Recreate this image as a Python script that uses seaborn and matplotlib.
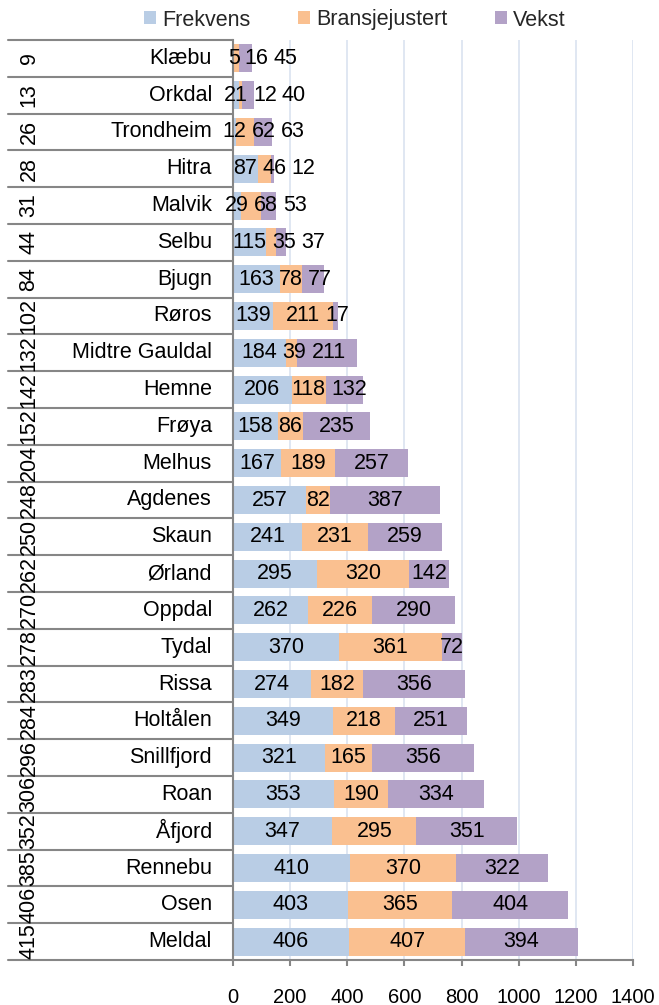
import matplotlib
matplotlib.use("Agg")
import matplotlib.pyplot as plt
import matplotlib.transforms as mtransforms
from matplotlib.patches import Patch
import numpy as np
import pandas as pd
import seaborn as sns

# data
kommuner = ["Klæbu", "Orkdal", "Trondheim", "Hitra", "Malvik", "Selbu", "Bjugn", "Røros",
            "Midtre Gauldal", "Hemne", "Frøya", "Melhus", "Agdenes", "Skaun", "Ørland",
            "Oppdal", "Tydal", "Rissa", "Holtålen", "Snillfjord", "Roan", "Åfjord",
            "Rennebu", "Osen", "Meldal"]
rangering = [9, 13, 26, 28, 31, 44, 84, 102, 132, 142, 152, 204, 248, 250, 262, 270,
             278, 283, 284, 296, 306, 352, 385, 406, 415]
frekvens = [5, 21, 12, 87, 29, 115, 163, 139, 184, 206, 158, 167, 257, 241, 295, 262,
            370, 274, 349, 321, 353, 347, 410, 403, 406]
bransje = [16, 12, 62, 46, 68, 35, 78, 211, 39, 118, 86, 189, 82, 231, 320, 226, 361,
           182, 218, 165, 190, 295, 370, 365, 407]
vekst = [45, 40, 63, 12, 53, 37, 77, 17, 211, 132, 235, 257, 387, 259, 142, 290, 72,
         356, 251, 356, 334, 351, 322, 404, 394]
serier = ["Frekvens", "Bransjejustert", "Vekst"]
farger = ["#b9cde5", "#fac090", "#b3a2c7"]

df = pd.DataFrame({"Kommune": kommuner, "Frekvens": frekvens,
                   "Bransjejustert": bransje, "Vekst": vekst})
df["s1"] = df["Frekvens"]
df["s2"] = df["s1"] + df["Bransjejustert"]
df["s3"] = df["s2"] + df["Vekst"]

sns.set_theme(style="white")
plt.rcParams["font.family"] = ["Liberation Sans", "DejaVu Sans"]
FS = 15.5
GRA = "#868686"

fig = plt.figure(figsize=(6.59, 10.05), dpi=100)
ax = fig.add_axes([233 / 659, 45 / 1005, 400 / 659, 920 / 1005])

# stacked bars: draw cumulative totals from the back
for kol, farge in zip(["s3", "s2", "s1"], farger[::-1]):
    sns.barplot(data=df, x=kol, y="Kommune", color=farge, width=0.76,
                saturation=1, linewidth=0, ax=ax, zorder=2)

ax.set_xlim(0, 1400)
ax.set_xticks(np.arange(0, 1401, 200))
ax.set_ylim(len(kommuner) - 0.5, -0.5)
ax.set_xlabel("")
ax.set_ylabel("")
ax.set_yticks([])
ax.grid(axis="x", color="#dae3f0", linewidth=1.2, zorder=0)
ax.set_axisbelow(True)
for s in ["top", "right"]:
    ax.spines[s].set_visible(False)
for s in ["left", "bottom"]:
    ax.spines[s].set_color(GRA)
    ax.spines[s].set_linewidth(1.5)
ax.tick_params(axis="x", bottom=True, length=4, width=1.5, color=GRA,
               pad=16, labelsize=14.5, labelcolor="#000000")

# data labels, pushed right when they would overlap
px_per_unit = 400 / 1400
digit = 0.556 * FS * 100 / 72 / px_per_unit
gap = 5 / px_per_unit
for i in range(len(kommuner)):
    verdier = [frekvens[i], bransje[i], vekst[i]]
    starts = np.cumsum([0] + verdier[:-1])
    forrige_hoyre = None
    for v, st in zip(verdier, starts):
        w = len(str(v)) * digit
        c = st + v / 2
        if forrige_hoyre is not None and c - w / 2 < forrige_hoyre + gap:
            c = forrige_hoyre + gap + w / 2
        ax.text(c, i, str(v), ha="center", va="center", fontsize=FS,
                color="black", zorder=3, clip_on=False)
        forrige_hoyre = c + w / 2

# category labels to the left
trans = mtransforms.blended_transform_factory(ax.transAxes, ax.transData)
for i, (navn, rang) in enumerate(zip(kommuner, rangering)):
    ax.text(-21 / 400, i, navn, transform=trans, ha="right", va="center",
            fontsize=FS, color="black")
    ax.text(-204 / 400, i, str(rang), transform=trans, ha="center", va="center",
            rotation=90, fontsize=FS, color="black")
for b in np.arange(len(kommuner) + 1) - 0.5:
    ax.plot([-225 / 400, 0], [b, b], transform=trans, color=GRA, linewidth=1.5,
            clip_on=False, zorder=1)

handles = [Patch(facecolor=f, edgecolor="none") for f in farger]
fig.legend(handles, serier, loc="center", bbox_to_anchor=(355 / 659, 1 - 20 / 1005),
           ncol=3, frameon=False, fontsize=FS, handlelength=0.55, handleheight=0.55,
           handletextpad=0.3, columnspacing=2.2, borderaxespad=0)

fig.savefig("out.png", dpi=100)
